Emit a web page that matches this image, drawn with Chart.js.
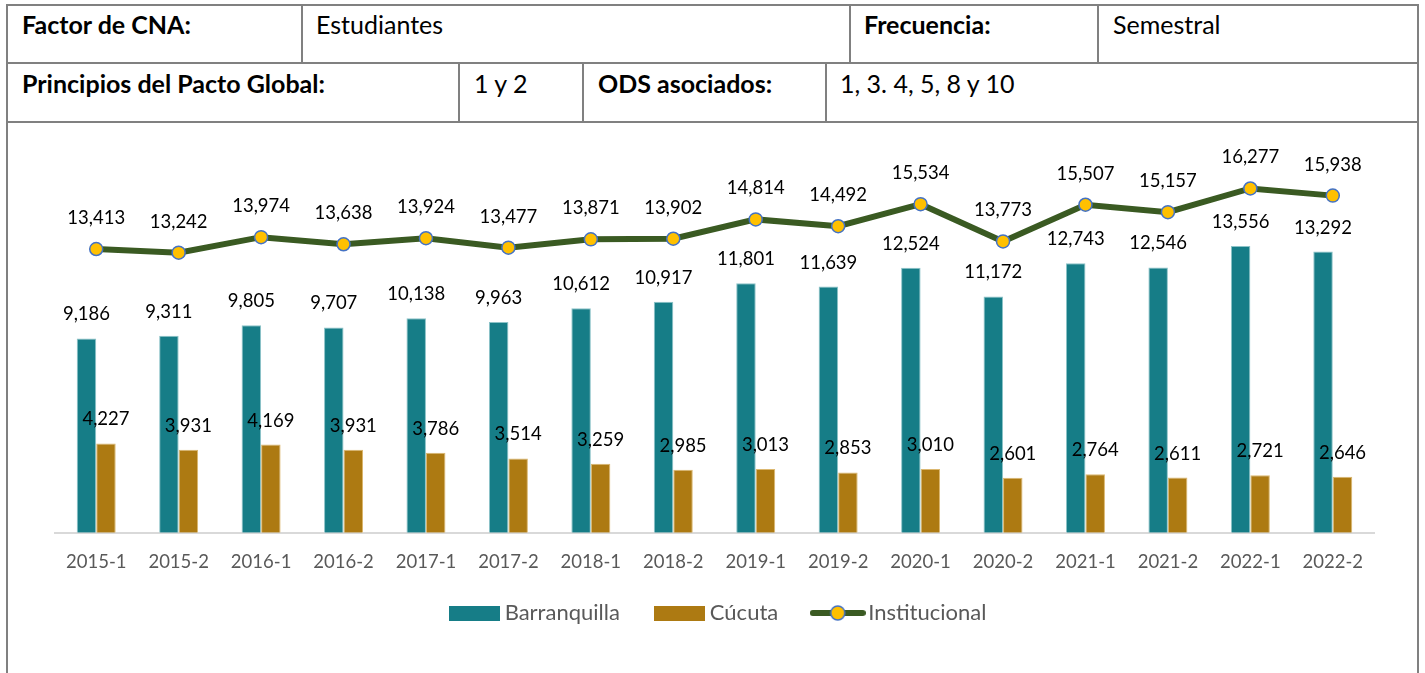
<!DOCTYPE html>
<html lang="es">
<head>
  <meta charset="UTF-8" />
  <title>Estudiantes por semestre</title>
  <script src="https://cdn.jsdelivr.net/npm/chart.js"></script>
  <style>
    body {
      margin: 0;
      background: #fff;
      font-family: Lato, sans-serif;
      width: 1425px;
      height: 673px;
      overflow: hidden;
      position: relative;
    }
    .frame {
      position: absolute;
      left: 6px;
      top: 4px;
      width: 1409px;
      height: 700px;
      border: 2px solid #808080;
      border-bottom: none;
    }
    .hline, .vline {
      position: absolute;
      background: #808080;
    }
    .hline { left: 6px; width: 1413px; height: 2px; }
    .vline { width: 2px; }
    .cell {
      position: absolute;
      font-size: 25px;
      line-height: 28px;
      color: #000;
      white-space: nowrap;
    }
    .cell b { font-weight: 700; }
    .chart-box {
      position: absolute;
      left: 8px;
      top: 124px;
      width: 1409px;
      height: 549px;
    }
  </style>
</head>
<body>
  <div class="frame"></div>
  <div class="hline" style="top:62px"></div>
  <div class="hline" style="top:121px"></div>
  <div class="vline" style="left:301px; top:4px; height:59px"></div>
  <div class="vline" style="left:849px; top:4px; height:59px"></div>
  <div class="vline" style="left:1097px; top:4px; height:59px"></div>
  <div class="vline" style="left:458px; top:63px; height:59px"></div>
  <div class="vline" style="left:582px; top:63px; height:59px"></div>
  <div class="vline" style="left:825px; top:63px; height:59px"></div>

  <div class="cell" style="left:22px; top:10px"><b>Factor de CNA:</b></div>
  <div class="cell" style="left:316px; top:10px">Estudiantes</div>
  <div class="cell" style="left:864px; top:10px"><b>Frecuencia:</b></div>
  <div class="cell" style="left:1113px; top:10px">Semestral</div>
  <div class="cell" style="left:22px; top:69px"><b>Principios del Pacto Global:</b></div>
  <div class="cell" style="left:474px; top:69px">1 y 2</div>
  <div class="cell" style="left:598px; top:69px"><b>ODS asociados:</b></div>
  <div class="cell" style="left:840px; top:69px">1, 3. 4, 5, 8 y 10</div>

  <div class="chart-box"><canvas id="estudiantes"></canvas></div>

  <script>
    const periods = ['2015-1', '2015-2', '2016-1', '2016-2', '2017-1', '2017-2', '2018-1', '2018-2',
                     '2019-1', '2019-2', '2020-1', '2020-2', '2021-1', '2021-2', '2022-1', '2022-2'];
    const barranquilla = [9186, 9311, 9805, 9707, 10138, 9963, 10612, 10917,
                          11801, 11639, 12524, 11172, 12743, 12546, 13556, 13292];
    const cucuta = [4227, 3931, 4169, 3931, 3786, 3514, 3259, 2985,
                    3013, 2853, 3010, 2601, 2764, 2611, 2721, 2646];
    const institucional = [13413, 13242, 13974, 13638, 13924, 13477, 13871, 13902,
                           14814, 14492, 15534, 13773, 15507, 15157, 16277, 15938];

    const TEAL = '#167d87';
    const OCHRE = '#ad7a12';
    const GREEN = '#3a5a22';
    const YELLOW = '#ffc000';
    const BLUE = '#4472c4';

    // small canvases used as legend icons (Excel style)
    function rectIcon(color) {
      const c = document.createElement('canvas');
      c.width = 51; c.height = 15;
      const g = c.getContext('2d');
      g.fillStyle = color;
      g.fillRect(0, 0, 51, 15);
      return c;
    }
    function lineIcon() {
      const c = document.createElement('canvas');
      c.width = 56; c.height = 18;
      const g = c.getContext('2d');
      g.strokeStyle = GREEN;
      g.lineWidth = 6;
      g.lineCap = 'round';
      g.beginPath(); g.moveTo(3, 9); g.lineTo(53, 9); g.stroke();
      g.fillStyle = YELLOW;
      g.strokeStyle = BLUE;
      g.lineWidth = 1.5;
      g.beginPath(); g.arc(28, 9, 7, 0, Math.PI * 2); g.fill(); g.stroke();
      return c;
    }
    const icons = [rectIcon(TEAL), rectIcon(OCHRE), lineIcon()];

    // value labels above bars and points
    const valueLabels = {
      id: 'valueLabels',
      afterDatasetsDraw(chart) {
        const ctx = chart.ctx;
        ctx.save();
        ctx.font = '18.5px Lato';
        ctx.fillStyle = '#000';
        ctx.textAlign = 'center';
        ctx.textBaseline = 'middle';
        chart.data.datasets.forEach((ds, i) => {
          const lift = ds.type === 'line' ? 31 : 24;
          chart.getDatasetMeta(i).data.forEach((el, j) => {
            ctx.fillText(ds.data[j].toLocaleString('en-US'), el.x, el.y - lift);
          });
        });
        ctx.restore();
      }
    };

    // move the legend closer to the axis labels, as in the original
    const legendShift = {
      id: 'legendShift',
      afterLayout(chart) {
        const lg = chart.legend;
        lg.left += 6;
        lg.right += 6;
        lg.top -= 11;
        lg.bottom -= 11;
      }
    };

    new Chart(document.getElementById('estudiantes'), {
      type: 'bar',
      data: {
        labels: periods,
        datasets: [
          {
            label: 'Barranquilla',
            data: barranquilla,
            backgroundColor: TEAL,
            borderColor: '#8cc3c8',
            borderWidth: 1,
            categoryPercentage: 0.473,
            barPercentage: 1,
            order: 1
          },
          {
            label: 'Cúcuta',
            data: cucuta,
            backgroundColor: OCHRE,
            borderColor: '#dcb870',
            borderWidth: 1,
            categoryPercentage: 0.473,
            barPercentage: 1,
            order: 1
          },
          {
            type: 'line',
            label: 'Institucional',
            data: institucional,
            borderColor: GREEN,
            borderWidth: 6,
            pointBackgroundColor: YELLOW,
            pointBorderColor: BLUE,
            pointBorderWidth: 1.5,
            pointRadius: 6.5,
            tension: 0,
            order: 0
          }
        ]
      },
      options: {
        responsive: true,
        maintainAspectRatio: false,
        animation: false,
        layout: { padding: { left: 47, right: 43, top: 28, bottom: 28 } },
        scales: {
          x: {
            grid: { display: false, drawTicks: false },
            border: { color: '#d9d9d9', width: 2 },
            ticks: { color: '#595959', font: { family: 'Lato', size: 18.5 }, padding: 18 },
            afterFit(scale) { scale.height -= 18; }
          },
          y: { display: false, min: 0, max: 18000 }
        },
        plugins: {
          legend: {
            position: 'bottom',
            labels: {
              usePointStyle: true,
              pointStyleWidth: 39,
              boxHeight: 15,
              padding: 40,
              color: '#595959',
              font: { family: 'Lato', size: 22 },
              sort: (a, b) => a.datasetIndex - b.datasetIndex,
              generateLabels(chart) {
                return Chart.defaults.plugins.legend.labels.generateLabels(chart).map(item => {
                  item.pointStyle = icons[item.datasetIndex];
                  return item;
                });
              }
            }
          },
          tooltip: { enabled: false }
        }
      },
      plugins: [valueLabels, legendShift]
    });
  </script>
</body>
</html>
